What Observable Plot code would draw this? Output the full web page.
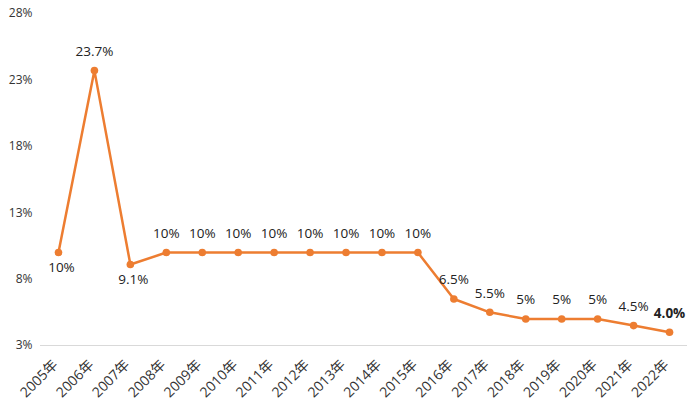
<!DOCTYPE html>
<html>
<head>
<meta charset="utf-8">
<script src="https://cdn.jsdelivr.net/npm/d3@7"></script>
<script src="https://cdn.jsdelivr.net/npm/@observablehq/plot@0.6"></script>
<style>
  body { margin: 0; background: #fff; }
  #chart { width: 700px; height: 417px; }
</style>
</head>
<body>
<div id="chart"></div>
<script>
const years = ["2005年","2006年","2007年","2008年","2009年","2010年","2011年","2012年","2013年","2014年","2015年","2016年","2017年","2018年","2019年","2020年","2021年","2022年"];
const values = [10, 23.7, 9.1, 10, 10, 10, 10, 10, 10, 10, 10, 6.5, 5.5, 5, 5, 5, 4.5, 4.0];
const labels = ["10%","23.7%","9.1%","10%","10%","10%","10%","10%","10%","10%","10%","6.5%","5.5%","5%","5%","5%","4.5%","4.0%"];
const yTicks = [3, 8, 13, 18, 23, 28];
const belowYears = ["2005年", "2007年"];
const boldYears = ["2022年"];

const data = years.map((y, i) => ({year: y, value: values[i], label: labels[i]}));
const color = "#ED7D31";
const font = "'Open Sans', 'Noto Sans CJK SC', sans-serif";

const above = data.filter(d => !belowYears.includes(d.year) && !boldYears.includes(d.year));
const below = data.filter(d => belowYears.includes(d.year));
const bold = data.filter(d => boldYears.includes(d.year));

const chart = Plot.plot({
  width: 700,
  height: 417,
  marginLeft: 40,
  marginRight: 13,
  marginTop: 13,
  marginBottom: 72,
  style: {fontFamily: font, color: "#333", background: "#fff"},
  x: {type: "point", domain: years, padding: 0.5, round: false, label: null},
  y: {domain: [3, 28], ticks: yTicks, tickFormat: d => d + "%", label: null},
  marks: [
    Plot.ruleY([3], {stroke: "#d9d9d9", strokeWidth: 1.2}),
    Plot.axisY({ticks: yTicks, tickFormat: d => d + "%", tickSize: 0, tickPadding: 8, fontSize: 12, label: null}),
    Plot.axisX({tickSize: 0, tickRotate: -45, tickPadding: 10, dx: -3, dy: 7, fontSize: 14, label: null}),
    Plot.line(data, {x: "year", y: "value", stroke: color, strokeWidth: 2.5}),
    Plot.dot(data, {x: "year", y: "value", fill: color, r: 3.8}),
    Plot.text(above, {x: "year", y: "value", text: "label", dy: -19, fontSize: 13.5, fill: "#222"}),
    Plot.text(below, {x: "year", y: "value", text: "label", dy: 15, dx: 3, fontSize: 13.5, fill: "#222"}),
    Plot.text(bold, {x: "year", y: "value", text: "label", dy: -19, fontSize: 13.5, fontWeight: "bold", fill: "#222"})
  ]
});
document.getElementById("chart").appendChild(chart);
</script>
</body>
</html>
